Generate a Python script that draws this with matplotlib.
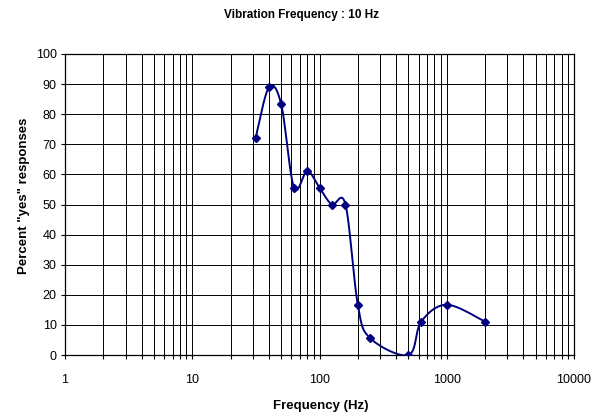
import numpy as np
import matplotlib
matplotlib.use("Agg")
import matplotlib.pyplot as plt
from matplotlib.ticker import LogLocator, FixedLocator, NullFormatter

# data
freq_hz = [31.5, 40, 50, 63, 80, 100, 125, 160, 200, 250, 500, 630, 1000, 2000]
pct_yes = [72.2, 88.9, 83.3, 55.6, 61.1, 55.6, 50.0, 50.0, 16.7, 5.6, 0.0, 11.1, 16.7, 11.1]
x_ticks = [1, 10, 100, 1000, 10000]
x_tick_labels = ["1", "10", "100", "1000", "10000"]
y_ticks = list(range(0, 101, 10))

title = "Vibration Frequency : 10 Hz"
x_label = "Frequency (Hz)"
y_label = 'Percent "yes" responses'


def smooth_curve(xs, ys, n=40):
    # excel style smoothed line (bezier through points), done in log-x space
    px = np.log10(np.array(xs, dtype=float))
    py = np.array(ys, dtype=float)
    pts = np.column_stack([px, py])
    pts_ext = np.vstack([pts[0], pts, pts[-1]])
    out = []
    t = np.linspace(0, 1, n)[:, None]
    for i in range(len(pts) - 1):
        p0 = pts_ext[i + 1]
        p3 = pts_ext[i + 2]
        p1 = p0 + (pts_ext[i + 2] - pts_ext[i]) / 6.0
        p2 = p3 - (pts_ext[i + 3] - pts_ext[i + 1]) / 6.0
        seg = ((1 - t) ** 3) * p0 + 3 * ((1 - t) ** 2) * t * p1 + 3 * (1 - t) * t ** 2 * p2 + t ** 3 * p3
        out.append(seg if i == 0 else seg[1:])
    out = np.vstack(out)
    return 10 ** out[:, 0], out[:, 1]


plt.rcParams['font.family'] = ['Liberation Sans', 'DejaVu Sans']

fig = plt.figure(figsize=(6.02, 4.16), dpi=100)
ax = fig.add_axes([65 / 602, 1 - 355 / 416, 509 / 602, 301 / 416])

ax.set_xscale("log")
ax.set_xlim(1, 10000)
ax.set_ylim(0, 100)

# grid: major + minor on x, every 10 on y
ax.xaxis.set_major_locator(FixedLocator(x_ticks))
ax.set_xticklabels(x_tick_labels)
ax.xaxis.set_minor_locator(LogLocator(base=10, subs=np.arange(2, 10)))
ax.xaxis.set_minor_formatter(NullFormatter())
ax.set_yticks(y_ticks)
ax.grid(True, which="both", axis="x", color="black", linewidth=0.7)
ax.grid(True, which="major", axis="y", color="black", linewidth=0.7)

cx, cy = smooth_curve(freq_hz, pct_yes)
ax.plot(cx, cy, color="#000080", linewidth=1.4, zorder=3)
ax.plot(freq_hz, pct_yes, linestyle="none", marker="D", markersize=4,
        color="#000080", zorder=4)

ax.tick_params(axis="x", which="both", direction="out", length=3, width=0.8,
               pad=11, labelsize=9)
ax.tick_params(axis="y", which="major", direction="out", length=3, width=0.8,
               pad=3, labelsize=9)
for s in ax.spines.values():
    s.set_linewidth(0.9)
    s.set_color("black")

ax.set_xlabel(x_label, fontsize=9.5, fontweight="bold")
ax.xaxis.set_label_coords(0.502, -0.148)
ax.set_ylabel(y_label, fontsize=9.5, fontweight="bold")
ax.yaxis.set_label_coords(-0.069, 0.53)

fig.text(0.5, 1 - 15 / 416, title, ha="center", va="center",
         fontsize=8.5, fontweight="bold")

fig.savefig("out.png", dpi=100)
